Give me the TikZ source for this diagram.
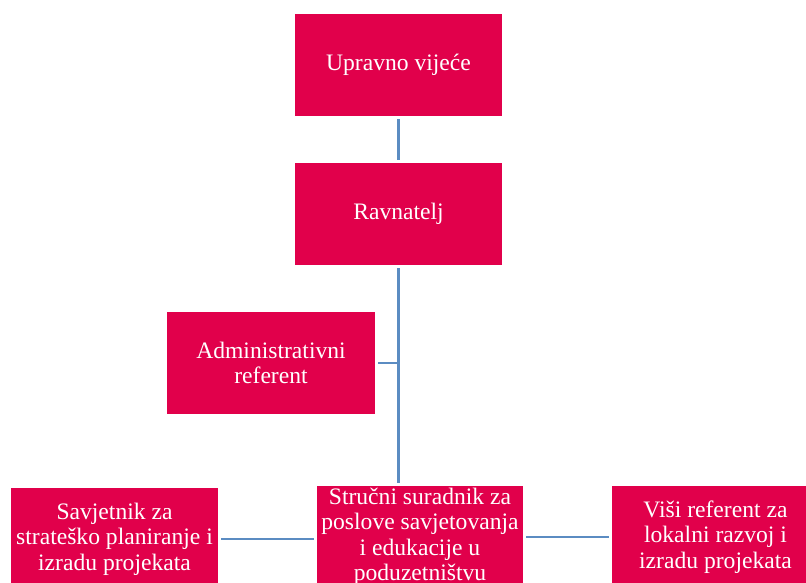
\documentclass[tikz,border=0pt]{standalone}
\usepackage{fontspec}
\setmainfont{Liberation Serif}
\definecolor{boxred}{HTML}{E1004B}
\definecolor{linkblue}{HTML}{5B8CC2}
\begin{document}
\begin{tikzpicture}[x=1pt,y=-1pt,
  orgbox/.style={fill=boxred,text=white,align=center,inner sep=0pt,
    minimum width=207pt,minimum height=102pt,
    font=\fontsize{23.6}{25.5}\selectfont},
  link/.style={draw=linkblue,line width=2.6pt,shorten <=3pt,shorten >=3pt}]
\clip (0,0) rectangle (806,583);
\node[orgbox] (uv) at (398.5,65) {Upravno vijeće};
\node[orgbox] (rav) at (398.5,214) {Ravnatelj};
\node[orgbox,minimum width=208pt] (adm) at (271,363) {Administrativni\\referent};
\node[orgbox,minimum width=206pt] (str) at (420,537) {Stručni suradnik za\\poslove savjetovanja\\i edukacije u\\poduzetništvu};
\node[orgbox] (sav) at (114.5,539) {Savjetnik za\\strateško planiranje i\\izradu projekata};
\node[orgbox] (vis) at (715.5,537) {Viši referent za\\lokalni razvoj i\\izradu projekata};
\draw[link] (uv.south) -- (rav.north);
\draw[link] (rav.south) -- (rav.south |- str.north);
\draw[link,shorten >=0pt] (adm.east) -- (adm.east -| rav.south);
\draw[link] (sav.east) -- (sav.east -| str.west);
\draw[link] (str.east) -- (str.east -| vis.west);
\end{tikzpicture}
\end{document}
